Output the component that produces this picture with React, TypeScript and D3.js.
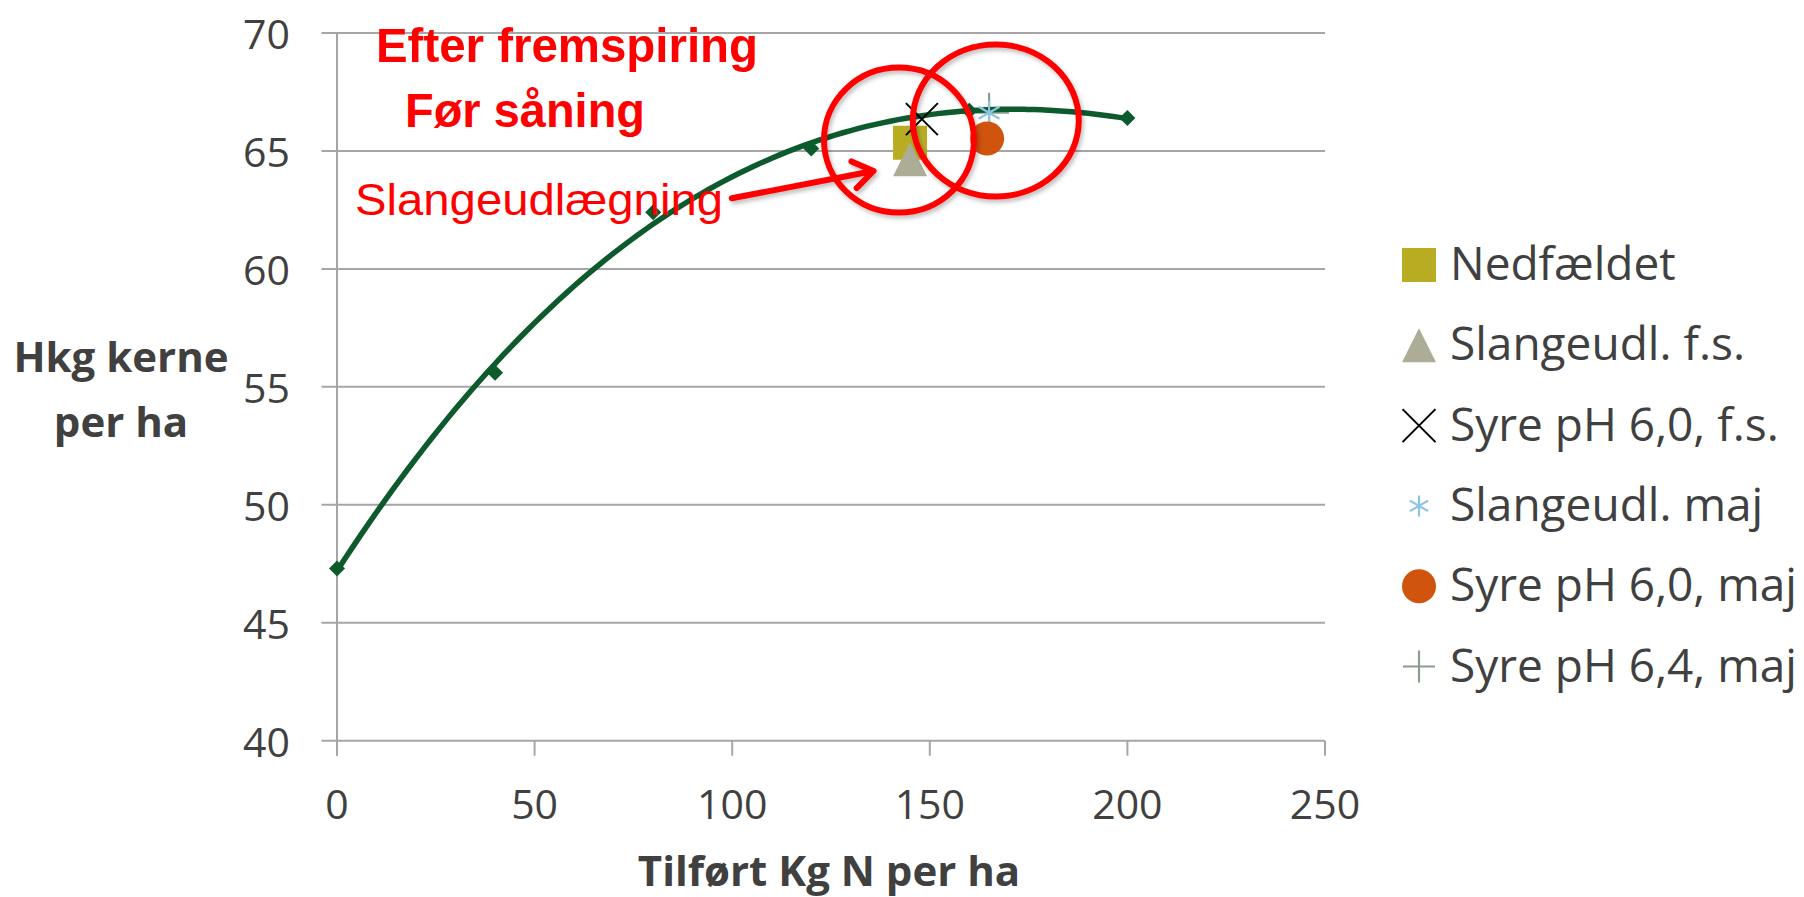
import React from "react";
import * as d3 from "d3";

// ---------- data ----------
const xTicks = [0, 50, 100, 150, 200, 250];
const yTicks = [40, 45, 50, 55, 60, 65, 70];

const curveN = [0, 40, 80, 120, 160, 200];
const curveYield = [47.3, 55.6, 62.4, 65.1, 66.7, 66.4];

const seriesNames = [
  "Nedfældet",
  "Slangeudl. f.s.",
  "Syre pH 6,0, f.s.",
  "Slangeudl. maj",
  "Syre pH 6,0, maj",
  "Syre pH 6,4, maj",
];
const seriesN = [145, 145, 148, 165, 164.5, 165];
const seriesYield = [65.35, 64.65, 66.35, 66.62, 65.53, 66.62];
const seriesKind = ["square", "triangle", "x", "asterisk", "circle", "plus"];
const seriesColor = ["#b8ad22", "#adac96", "#000000", "#8cc5e3", "#d0530e", "#8a9e8e"];

const xTitle = "Tilført Kg N per ha";
const yTitle = ["Hkg kerne", "per ha"];
const noteTitle = ["Efter fremspiring", "Før såning"];
const noteArrowLabel = "Slangeudlægning";
// annotation ellipse centres in data units
const ringN = [142.2, 166.7];
const ringYield = [65.46, 66.29];

// ---------- layout ----------
const W = 1804;
const H = 897;
const x = d3.scaleLinear().domain([0, 250]).range([337, 1325]);
const y = d3.scaleLinear().domain([40, 70]).range([740.7, 33]);

const TEXT = "#404040";
const GRID = "#a6a6a6";
const GREEN = "#0d5a2d";
const RED = "#ff0000";

// least-squares polynomial trendline (as the spreadsheet trendline)
function polyfit(xs: number[], ys: number[], order: number): number[] {
  const m = order + 1;
  const A: number[][] = [];
  for (let r = 0; r < m; r++) {
    const row: number[] = [];
    for (let c = 0; c < m; c++) row.push(d3.sum(xs, (v) => Math.pow(v, r + c)));
    row.push(d3.sum(xs, (v, i) => Math.pow(v, r) * ys[i]));
    A.push(row);
  }
  for (let i = 0; i < m; i++) {
    let p = i;
    for (let k = i + 1; k < m; k++) if (Math.abs(A[k][i]) > Math.abs(A[p][i])) p = k;
    [A[i], A[p]] = [A[p], A[i]];
    for (let k = i + 1; k < m; k++) {
      const f = A[k][i] / A[i][i];
      for (let j = i; j <= m; j++) A[k][j] -= f * A[i][j];
    }
  }
  const coef = new Array(m).fill(0);
  for (let i = m - 1; i >= 0; i--) {
    let s = A[i][m];
    for (let j = i + 1; j < m; j++) s -= A[i][j] * coef[j];
    coef[i] = s / A[i][i];
  }
  return coef;
}

function markerPath(kind: string, s: number): string {
  const h = s / 2;
  switch (kind) {
    case "square":
      return `M${-h},${-h}H${h}V${h}H${-h}Z`;
    case "triangle":
      return `M0,${-h}L${h},${h}L${-h},${h}Z`;
    case "x":
      return `M${-h},${-h}L${h},${h}M${-h},${h}L${h},${-h}`;
    case "asterisk": {
      const cx = h * Math.cos(Math.PI / 6);
      const cy = h * Math.sin(Math.PI / 6);
      return `M0,${-h}V${h}M${-cx},${-cy}L${cx},${cy}M${-cx},${cy}L${cx},${-cy}`;
    }
    case "plus":
      return `M0,${-h}V${h}M${-h},0H${h}`;
    case "circle":
      return d3.symbol(d3.symbolCircle, Math.PI * h * h)() || "";
    default:
      return "";
  }
}

function Marker({ kind, color, cx, cy, s }: any) {
  const filled = kind === "square" || kind === "triangle" || kind === "circle";
  return (
    <path
      d={markerPath(kind, s)}
      transform={`translate(${cx},${cy})`}
      fill={filled ? color : "none"}
      stroke={filled ? "none" : color}
      strokeWidth={kind === "x" ? 2 : 2.2}
    />
  );
}

const plotSize: Record<string, number> = {
  square: 34,
  triangle: 34,
  x: 32,
  asterisk: 24,
  circle: 34,
  plus: 40,
};
const legendSize: Record<string, number> = {
  square: 34,
  triangle: 34,
  x: 33,
  asterisk: 21,
  circle: 34,
  plus: 32,
};

export default function App() {
  const pts: [number, number][] = curveN.map((n, i) => [x(n), y(curveYield[i])]);
  const coef = polyfit(curveN, curveYield, 3);
  const f = (v: number) => coef.reduce((s, c, i) => s + c * Math.pow(v, i), 0);
  const nMax = d3.max(curveN) as number;
  const samples = d3.range(0, nMax + 0.001, 2);
  const curveD =
    d3
      .line<number>()
      .x((v) => x(v))
      .y((v) => y(f(v)))
      .curve(d3.curveMonotoneX)(samples) || "";
  const diamond = `M0,-8L8,0L0,8L-8,0Z`;

  // arrow geometry (from label end to target point)
  const a0: [number, number] = [731.7, 198.3];
  const a1: [number, number] = [873.5, 171];
  const ang = Math.atan2(a1[1] - a0[1], a1[0] - a0[0]);
  const armL = 24;
  const arm1 = [a1[0] - armL * Math.cos(ang - 0.6), a1[1] - armL * Math.sin(ang - 0.6)];
  const arm2 = [a1[0] - armL * Math.cos(ang + 0.6), a1[1] - armL * Math.sin(ang + 0.6)];

  const legendX = 1419;
  const legendY0 = 265;
  const legendStep = 80.3;

  const plusIdx = seriesKind.indexOf("plus");

  return (
    <svg
      width={W}
      height={H}
      viewBox={`0 0 ${W} ${H}`}
      style={{ position: "absolute", left: 0, top: 0, background: "#fff" }}
    >
      <defs>
        <filter id="sh" x="-20%" y="-20%" width="140%" height="140%">
          <feDropShadow dx="2" dy="3" stdDeviation="2" floodColor="#000" floodOpacity="0.25" />
        </filter>
      </defs>
      <rect x={0} y={0} width={W} height={H} fill="#fff" />

      {/* gridlines + y ticks */}
      {yTicks.map((t) => (
        <line
          key={"g" + t}
          x1={x(0) - 15.5}
          x2={x(250)}
          y1={y(t)}
          y2={y(t)}
          stroke={GRID}
          strokeWidth={2}
        />
      ))}
      {/* y axis */}
      <line x1={x(0)} x2={x(0)} y1={y(70)} y2={y(40) + 15} stroke={GRID} strokeWidth={2} />
      {/* x ticks */}
      {xTicks.map((t) => (
        <line
          key={"xt" + t}
          x1={x(t)}
          x2={x(t)}
          y1={y(40)}
          y2={y(40) + 15}
          stroke={GRID}
          strokeWidth={2}
        />
      ))}

      {/* tick labels */}
      {yTicks.map((t) => (
        <text
          key={"yl" + t}
          x={290}
          y={y(t)}
          textAnchor="end"
          dominantBaseline="central"
          fontFamily="'Open Sans', sans-serif"
          fontSize={41}
          fill={TEXT}
        >
          {t}
        </text>
      ))}
      {xTicks.map((t) => (
        <text
          key={"xl" + t}
          x={x(t)}
          y={y(40) + 62.5}
          textAnchor="middle"
          dominantBaseline="central"
          fontFamily="'Open Sans', sans-serif"
          fontSize={41}
          fill={TEXT}
        >
          {t}
        </text>
      ))}

      {/* axis titles */}
      <text
        x={829}
        y={886}
        textAnchor="middle"
        fontFamily="'Open Sans', sans-serif"
        fontWeight="bold"
        fontSize={42}
        fill={TEXT}
      >
        {xTitle}
      </text>
      {yTitle.map((s, i) => (
        <text
          key={s}
          x={121}
          y={372 + i * 65}
          textAnchor="middle"
          fontFamily="'Open Sans', sans-serif"
          fontWeight="bold"
          fontSize={42}
          fill={TEXT}
        >
          {s}
        </text>
      ))}

      {/* plus marker sits under the curve */}
      <Marker
        kind="plus"
        color={seriesColor[plusIdx]}
        cx={x(seriesN[plusIdx])}
        cy={y(seriesYield[plusIdx])}
        s={plotSize.plus}
      />

      {/* response curve (trendline) */}
      <path d={curveD} fill="none" stroke={GREEN} strokeWidth={5.5} strokeLinecap="round" />
      {pts.map((p, i) => (
        <path key={"d" + i} d={diamond} transform={`translate(${p[0]},${p[1]})`} fill={GREEN} />
      ))}

      {/* series markers */}
      {seriesKind.map((k, i) =>
        k === "plus" ? null : (
          <Marker
            key={"m" + i}
            kind={k}
            color={seriesColor[i]}
            cx={x(seriesN[i])}
            cy={y(seriesYield[i])}
            s={plotSize[k]}
          />
        )
      )}

      {/* annotations */}
      <g filter="url(#sh)">
        <ellipse cx={x(ringN[0])} cy={y(ringYield[0])} rx={75} ry={72.5} fill="none" stroke={RED} strokeWidth={6} />
        <ellipse cx={x(ringN[1])} cy={y(ringYield[1])} rx={83} ry={76} fill="none" stroke={RED} strokeWidth={6} />
        <path
          d={`M${a0[0]},${a0[1]}L${a1[0]},${a1[1]}M${arm1[0]},${arm1[1]}L${a1[0]},${a1[1]}L${arm2[0]},${arm2[1]}`}
          fill="none"
          stroke={RED}
          strokeWidth={6}
          strokeLinecap="round"
          strokeLinejoin="round"
        />
      </g>
      <text
        x={376}
        y={62.3}
        fontFamily="'Liberation Sans', Arial, sans-serif"
        fontWeight="bold"
        fontSize={49}
        fill={RED}
        textLength={382}
        lengthAdjust="spacingAndGlyphs"
      >
        {noteTitle[0]}
      </text>
      <text
        x={405}
        y={126.7}
        fontFamily="'Liberation Sans', Arial, sans-serif"
        fontWeight="bold"
        fontSize={49}
        fill={RED}
        textLength={240}
        lengthAdjust="spacingAndGlyphs"
      >
        {noteTitle[1]}
      </text>
      <text
        x={355}
        y={215}
        fontFamily="'Liberation Sans', Arial, sans-serif"
        fontSize={45}
        fill={RED}
        textLength={368}
        lengthAdjust="spacingAndGlyphs"
      >
        {noteArrowLabel}
      </text>

      {/* legend */}
      {seriesNames.map((name, i) => {
        const cy = legendY0 + i * legendStep;
        return (
          <g key={"lg" + i}>
            <Marker kind={seriesKind[i]} color={seriesColor[i]} cx={legendX} cy={cy} s={legendSize[seriesKind[i]]} />
            <text
              x={1450}
              y={cy + 15}
              fontFamily="'Open Sans', sans-serif"
              fontSize={46}
              fill={TEXT}
            >
              {name}
            </text>
          </g>
        );
      })}
    </svg>
  );
}
